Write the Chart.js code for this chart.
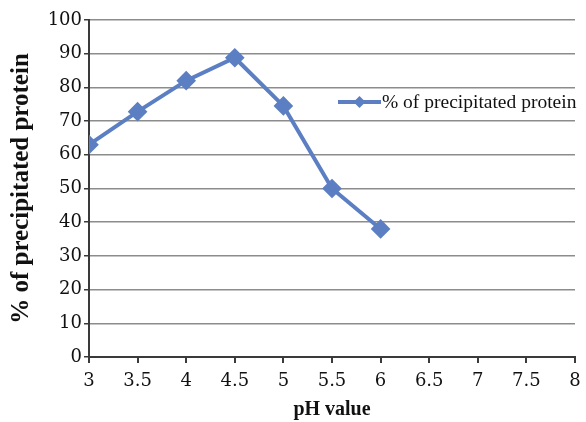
<!DOCTYPE html>
<html>
<head>
<meta charset="utf-8">
<script src="https://cdn.jsdelivr.net/npm/chart.js@4"></script>
<style>
  html, body { margin: 0; padding: 0; background: #fff; }
  #wrap { width: 586px; height: 422px; }
</style>
</head>
<body>
<div id="wrap"><canvas id="chart" width="586" height="422"></canvas></div>
<script>
// data
const phValues = [3, 3.5, 4, 4.5, 5, 5.5, 6];
const precipitated = [63, 72.8, 82, 88.8, 74.5, 50, 38];
const seriesName = '% of precipitated protein';

const lineBlue = '#5b7fc2';
const axisColor = '#3a3a3a';
const gridColor = '#8c8c8c';
const tickFont = { family: 'DejaVu Serif', size: 18 };

// legend drawn inside the plot, like the original
const insideLegend = {
    id: 'insideLegend',
    afterDatasetsDraw(chart) {
        const ctx = chart.ctx;
        const x0 = 338, x1 = 381, y = 102;
        ctx.save();
        ctx.strokeStyle = lineBlue;
        ctx.lineWidth = 4;
        ctx.beginPath();
        ctx.moveTo(x0, y);
        ctx.lineTo(x1, y);
        ctx.stroke();
        ctx.fillStyle = lineBlue;
        ctx.beginPath();
        const cx = (x0 + x1) / 2, r = 6;
        ctx.moveTo(cx, y - r);
        ctx.lineTo(cx + r, y);
        ctx.lineTo(cx, y + r);
        ctx.lineTo(cx - r, y);
        ctx.closePath();
        ctx.fill();
        ctx.fillStyle = '#111';
        ctx.font = '19.5px "Liberation Serif"';
        ctx.textBaseline = 'middle';
        ctx.fillText(seriesName, x1 + 1, y + 1);
        ctx.restore();
    }
};

new Chart(document.getElementById('chart').getContext('2d'), {
    type: 'line',
    data: {
        datasets: [{
            label: seriesName,
            data: phValues.map((x, i) => ({ x: x, y: precipitated[i] })),
            borderColor: lineBlue,
            backgroundColor: lineBlue,
            borderWidth: 4,
            pointStyle: 'rectRot',
            pointRadius: 7,
            pointHoverRadius: 7,
            tension: 0
        }]
    },
    options: {
        responsive: false,
        animation: false,
        layout: { padding: { top: 20, right: 0, bottom: 0, left: 7 } },
        plugins: {
            legend: { display: false },
            tooltip: { enabled: false }
        },
        scales: {
            x: {
                type: 'linear',
                min: 3,
                max: 8,
                ticks: { stepSize: 0.5, color: '#111', font: tickFont, padding: 8, callback: v => String(v) },
                grid: { drawOnChartArea: false, drawTicks: true, tickLength: 6, color: axisColor, lineWidth: 2 },
                border: { color: axisColor, width: 2 },
                title: {
                    display: true,
                    text: 'pH value',
                    color: '#111',
                    font: { family: 'Liberation Serif', size: 20, weight: 'bold' },
                    padding: { top: 6, bottom: 0 }
                },
                beforeFit(scale) {
                    // let the last tick label hang past the plot edge
                    scale._calculatePadding = function () {
                        this.paddingLeft = 0;
                        this.paddingRight = 5;
                        this.paddingTop = 0;
                        this.paddingBottom = 0;
                    };
                },
                afterFit(scale) { scale.height = 65; }
            },
            y: {
                min: 0,
                max: 100,
                ticks: { stepSize: 10, color: '#111', font: tickFont, padding: 2 },
                grid: { color: gridColor, lineWidth: 1.5, tickLength: 5, tickColor: axisColor },
                border: { color: axisColor, width: 2 },
                title: {
                    display: true,
                    text: '% of precipitated protein',
                    color: '#111',
                    font: { family: 'Liberation Serif', size: 25, weight: 'bold' },
                    padding: { top: 0, bottom: 2 }
                },
                afterFit(scale) { scale.width = 82; }
            }
        }
    },
    plugins: [insideLegend]
});
</script>
</body>
</html>
